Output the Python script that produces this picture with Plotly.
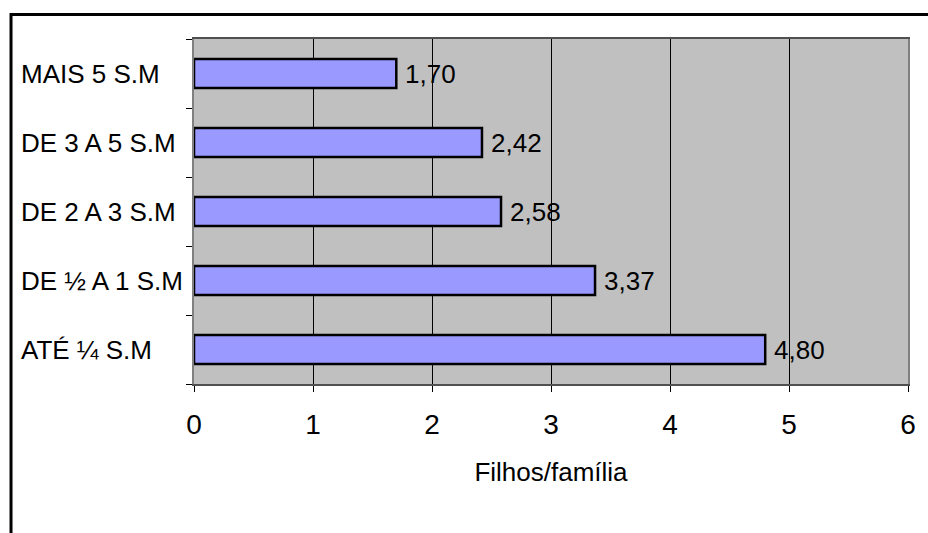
import plotly.graph_objects as go

# Filhos por família, por faixa de renda (salários mínimos)
categorias = ["ATÉ ¼ S.M", "DE ½ A 1 S.M", "DE 2 A 3 S.M", "DE 3 A 5 S.M", "MAIS 5 S.M"]
filhos = [4.80, 3.37, 2.58, 2.42, 1.70]
x_ticks = [0, 1, 2, 3, 4, 5, 6]
titulo_x = "Filhos/família"

FONT = "Liberation Sans, Arial, sans-serif"

fig = go.Figure()
fig.add_trace(go.Bar(
    y=categorias,
    x=filhos,
    orientation="h",
    marker=dict(color="#9999FF", line=dict(color="#000000", width=2.5)),
    hoverinfo="skip",
))

# value labels just past the end of each bar
for cat, v in zip(categorias, filhos):
    fig.add_annotation(
        x=v, y=cat, xref="x", yref="y",
        text=f"{v:.2f}".replace(".", ","),
        showarrow=False, xanchor="left", yanchor="middle", xshift=7,
        font=dict(family=FONT, size=26, color="#000000"),
    )

# category labels, left-aligned in the margin
for cat in categorias:
    fig.add_annotation(
        x=(19 - 194) / 716, y=cat, xref="paper", yref="y",
        text=cat, showarrow=False, xanchor="left", yanchor="middle",
        font=dict(family=FONT, size=26, color="#000000"),
    )

# outer chart frame
fig.add_shape(
    type="rect", xref="paper", yref="paper",
    x0=(10.5 - 194) / 716, x1=1.06, y0=-0.5, y1=(384 - 14.5) / 345,
    line=dict(color="#000000", width=3), fillcolor="rgba(0,0,0,0)", layer="above",
)

fig.update_layout(
    width=928, height=533,
    margin=dict(l=194, r=18, t=39, b=149),
    paper_bgcolor="#FFFFFF",
    plot_bgcolor="#C0C0C0",
    bargap=0.58,
    showlegend=False,
    font=dict(family=FONT, size=27, color="#000000"),
    xaxis=dict(
        range=[0, 6], tickvals=x_ticks, ticktext=[str(t) for t in x_ticks],
        showgrid=True, gridcolor="#000000", gridwidth=1,
        showline=True, linecolor="#505050", linewidth=2, mirror=True,
        ticks="outside", ticklen=6, tickcolor="#000000", tickwidth=1,
        ticklabelstandoff=8,
        tickfont=dict(family=FONT, size=28),
        title=dict(text=titulo_x, font=dict(family=FONT, size=26), standoff=24),
        zeroline=False, fixedrange=True,
    ),
    yaxis=dict(
        categoryorder="array", categoryarray=categorias,
        showticklabels=False,
        showline=True, linecolor="#808080", linewidth=2, mirror=True,
        ticks="outside", ticklen=6, tickcolor="#000000", tickwidth=1,
        tickson="boundaries",
        showgrid=False, zeroline=False, fixedrange=True,
    ),
)

fig.write_html("out.html")
